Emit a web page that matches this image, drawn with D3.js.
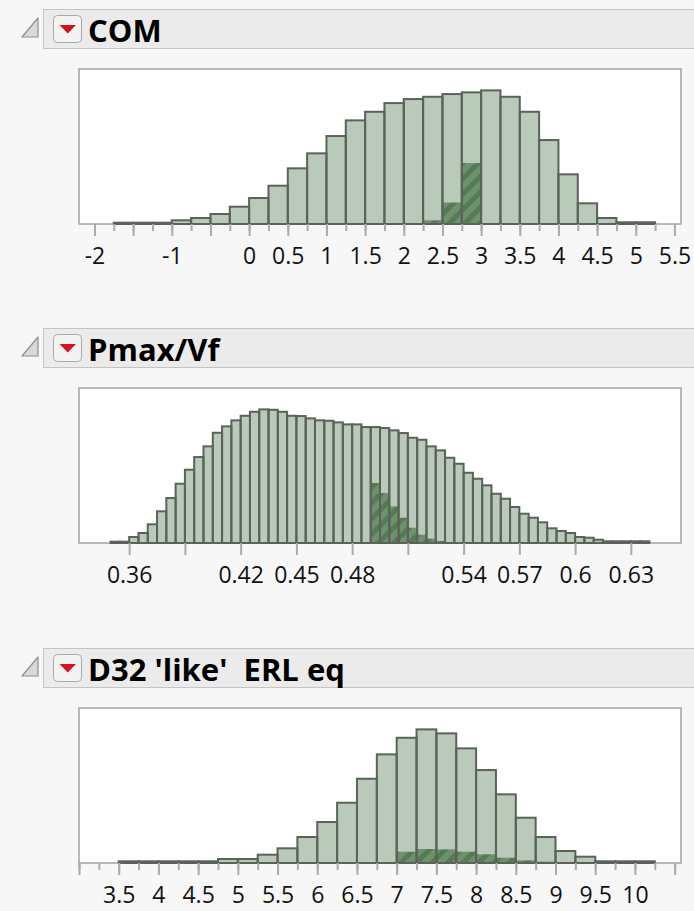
<!DOCTYPE html>
<html>
<head>
<meta charset="utf-8">
<script src="https://cdn.jsdelivr.net/npm/d3@7"></script>
<style>
  body { margin: 0; background: #f7f7f7; }
  svg { display: block; }
</style>
</head>
<body>
<svg id="svg" width="694" height="911"></svg>
<script>
// --- data (bar heights as estimated counts) ---
const comTitle = "COM";
const comBinStart = -1.75;
const comBinWidth = 0.25;
const comCounts = [13,13,13,37,60,100,173,260,383,557,707,880,1037,1123,1210,1250,1273,1300,1317,1337,1273,1123,840,497,207,60,17,17];
const comSelected = [0,0,0,0,0,0,0,0,0,0,0,0,0,0,0,5,37,215,610,0,0,0,0,0,0,0,0,0];
const comDomain = [-2.2, 5.585];
const comLabels = [-2,-1,0,0.5,1,1.5,2,2.5,3,3.5,4,4.5,5,5.5];

const pmaxTitle = "Pmax/Vf";
const pmaxBinStart = 0.35;
const pmaxBinWidth = 0.005;
const pmaxCounts = [13,13,60,100,187,317,450,593,733,860,967,1103,1167,1227,1273,1313,1337,1333,1313,1273,1270,1247,1227,1223,1207,1187,1187,1160,1160,1150,1127,1100,1053,1033,967,927,853,793,703,643,577,493,443,360,293,253,207,147,120,100,60,53,33,17,17,17,17,17];
const pmaxSelected = [0,0,0,0,0,0,0,0,0,0,0,0,0,0,0,0,0,0,0,0,0,0,0,0,0,0,0,0,600,500,367,253,153,83,43,20,10,5,0,0,0,0,0,0,0,0,0,0,0,0,0,0,0,0,0,0,0,0];
const pmaxDomain = [0.333, 0.657];
const pmaxLabels = [0.36,0.42,0.45,0.48,0.54,0.57,0.6,0.63];

const d32Title = "D32 'like'  ERL eq";
const d32BinStart = 3.5;
const d32BinWidth = 0.25;
const d32Counts = [17,17,17,17,17,40,40,83,147,260,410,603,843,1087,1253,1337,1297,1147,930,687,453,260,120,63,17,17,17];
const d32Selected = [0,0,0,0,0,0,0,0,0,0,0,0,0,0,113,140,137,113,87,53,27,13,7,0,0,0,0];
const d32Domain = [3.0, 10.58];
const d32Labels = [3.5,4,4.5,5,5.5,6,6.5,7,7.5,8,8.5,9,9.5,10];

const panels = [
  { title: comTitle, start: comBinStart, width: comBinWidth, counts: comCounts, sel: comSelected,
    domain: comDomain, labels: comLabels, major: 0.5, minor: 0.25, top: 9 },
  { title: pmaxTitle, start: pmaxBinStart, width: pmaxBinWidth, counts: pmaxCounts, sel: pmaxSelected,
    domain: pmaxDomain, labels: pmaxLabels, major: 0.03, minor: null, top: 328 },
  { title: d32Title, start: d32BinStart, width: d32BinWidth, counts: d32Counts, sel: d32Selected,
    domain: d32Domain, labels: d32Labels, major: 0.5, minor: 0.25, top: 648 }
];

const svg = d3.select("#svg");

// hatched fill for the selected part of the bars
const defs = svg.append("defs");
const hatch = defs.append("pattern")
  .attr("id", "hatch")
  .attr("patternUnits", "userSpaceOnUse")
  .attr("width", 11)
  .attr("height", 11)
  .attr("patternTransform", "rotate(45)");
hatch.append("rect").attr("width", 11).attr("height", 11).attr("fill", "#6d916d");
hatch.append("rect").attr("width", 5).attr("height", 11).attr("fill", "#567a56");

const frameLeft = 79, frameRight = 681;

function tickRange(domain, step) {
  const a = Math.ceil(domain[0] / step - 1e-9), b = Math.floor(domain[1] / step + 1e-9);
  return d3.range(a, b + 1).map(i => +(i * step).toFixed(6));
}

panels.forEach(p => {
  const g = svg.append("g");
  const hy = p.top;

  // header bar
  g.append("rect")
    .attr("x", 43.5).attr("y", hy + 0.5)
    .attr("width", 680).attr("height", 39)
    .attr("fill", "#ebebeb").attr("stroke", "#c4c4c4");

  // disclosure triangle
  g.append("path")
    .attr("d", `M38,${hy + 9}L38,${hy + 28}L22,${hy + 28}Z`)
    .attr("fill", "#d9d9d9").attr("stroke", "#8f8f8f").attr("stroke-width", 1.2)
    .attr("stroke-linejoin", "round");

  // red popup button
  g.append("rect")
    .attr("x", 53.5).attr("y", hy + 6.5)
    .attr("width", 28).attr("height", 27).attr("rx", 4)
    .attr("fill", "#f3f3f3").attr("stroke", "#a9a9a9");
  g.append("path")
    .attr("d", `M59.5,${hy + 16}L76,${hy + 16}L67.75,${hy + 24.5}Z`)
    .attr("fill", "#d0141c");

  g.append("text")
    .attr("x", 88).attr("y", hy + 33)
    .attr("font-family", "'Segoe UI', 'Open Sans', sans-serif")
    .attr("font-weight", "bold")
    .attr("font-size", 31)
    .attr("fill", "#000")
    .style("white-space", "pre")
    .text(p.title);

  // plot frame
  const fTop = hy + 60, fBottom = hy + 215;
  const x = d3.scaleLinear().domain(p.domain).range([frameLeft, frameRight]);
  const y = d3.scaleLinear().domain([0, d3.max(p.counts) * 1.16]).range([fBottom, fTop]);

  g.append("rect")
    .attr("x", frameLeft).attr("y", fTop)
    .attr("width", frameRight - frameLeft).attr("height", fBottom - fTop)
    .attr("fill", "#fff").attr("stroke", "#a8a8a8").attr("stroke-width", 1.6);

  const bins = p.counts.map((c, i) => ({
    x0: p.start + i * p.width,
    x1: p.start + (i + 1) * p.width,
    count: c,
    sel: p.sel[i]
  }));

  g.append("g").selectAll("rect")
    .data(bins)
    .join("rect")
    .attr("x", d => x(d.x0))
    .attr("y", d => y(d.count))
    .attr("width", d => x(d.x1) - x(d.x0))
    .attr("height", d => y(0) - y(d.count))
    .attr("fill", "#b9cabb");

  g.append("g").selectAll("rect")
    .data(bins.filter(d => d.sel > 0))
    .join("rect")
    .attr("x", d => x(d.x0))
    .attr("y", d => y(d.sel))
    .attr("width", d => x(d.x1) - x(d.x0))
    .attr("height", d => y(0) - y(d.sel))
    .attr("fill", "url(#hatch)");

  g.append("g").selectAll("rect")
    .data(bins)
    .join("rect")
    .attr("x", d => x(d.x0))
    .attr("y", d => y(d.count))
    .attr("width", d => x(d.x1) - x(d.x0))
    .attr("height", d => y(0) - y(d.count))
    .attr("fill", "none")
    .attr("stroke", "#5b6259")
    .attr("stroke-width", 2);

  // axis: minor ticks, then major ticks with labels
  if (p.minor) {
    const minorAxis = d3.axisBottom(x)
      .tickValues(tickRange(p.domain, p.minor))
      .tickSize(7)
      .tickFormat("");
    const gm = g.append("g").attr("transform", `translate(0,${fBottom})`).call(minorAxis);
    gm.select(".domain").remove();
    gm.selectAll("line").attr("stroke", "#ababab").attr("stroke-width", 2);
  }
  const labelSet = new Set(p.labels.map(v => +v.toFixed(6)));
  const majorAxis = d3.axisBottom(x)
    .tickValues(tickRange(p.domain, p.major))
    .tickSize(12)
    .tickPadding(12)
    .tickFormat(d => labelSet.has(d) ? String(d) : "");
  const ga = g.append("g").attr("transform", `translate(0,${fBottom})`).call(majorAxis);
  ga.select(".domain").remove();
  ga.selectAll("line").attr("stroke", "#ababab").attr("stroke-width", 2);
  ga.selectAll("text")
    .attr("font-family", "'Segoe UI', 'Open Sans', sans-serif")
    .attr("font-size", 23)
    .attr("fill", "#111");
});
</script>
</body>
</html>
